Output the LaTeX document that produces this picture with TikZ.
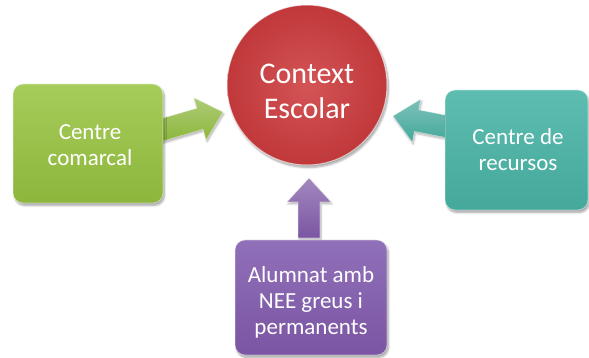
\documentclass[tikz,border=0pt]{standalone}
\usepackage{fontspec}
\setmainfont{Carlito}
\usetikzlibrary{calc,shadows.blur}
\definecolor{grn}{HTML}{8CB63C}
\definecolor{grnl}{HTML}{A6CC5A}
\definecolor{redc}{HTML}{C0383A}
\definecolor{redl}{HTML}{D45456}
\definecolor{tea}{HTML}{44A89B}
\definecolor{teal2}{HTML}{5DBDB0}
\definecolor{pur}{HTML}{7B55A3}
\definecolor{purl}{HTML}{9070B8}
\tikzset{
  boxstyle/.style={rounded corners=10pt, draw=white, draw opacity=0.5, line width=0.8pt,
    blur shadow={shadow xshift=1.5pt, shadow yshift=-2.5pt, shadow blur steps=6, shadow opacity=35}},
  boxtext/.style={text=white, font=\fontsize{23}{26}\selectfont, align=center},
  arrowstyle/.style={draw=white, draw opacity=0.5, line width=0.6pt,
    blur shadow={shadow xshift=1pt, shadow yshift=-2pt, shadow blur steps=5, shadow opacity=30}},
}
\newcommand\blockarr[3]{%
  \coordinate (#1h) at ($(#2)!24pt!(#1)$);
  \path[arrowstyle, top color=#3!70!white, bottom color=#3]
    ($(#1)!11pt!90:(#2)$) -- ($(#1h)!11pt!90:(#2)$) -- ($(#1h)!22pt!90:(#2)$) -- (#2)
    -- ($(#1h)!22pt!-90:(#2)$) -- ($(#1h)!11pt!-90:(#2)$) -- ($(#1)!11pt!-90:(#2)$) -- cycle;
}
\begin{document}
\begin{tikzpicture}[x=1pt,y=1pt]
\useasboundingbox (0,0) rectangle (589,358);
% arrows (behind)
\coordinate (gbase) at (158,227);
\coordinate (gtip) at (223,246);
\coordinate (tbase) at (449,231);
\coordinate (ttip) at (393,242);
\coordinate (pbase) at (309,120);
\coordinate (ptip) at (309,180);
\blockarr{gbase}{gtip}{grn}
\blockarr{tbase}{ttip}{tea}
\blockarr{pbase}{ptip}{pur}
% circle
\node[circle, minimum size=160pt, inner sep=0pt, draw=white, draw opacity=0.6, line width=1pt,
  inner color=redl, outer color=redc,
  blur shadow={shadow xshift=1.5pt, shadow yshift=-2.5pt, shadow blur steps=6, shadow opacity=35}]
  (ctx) at (307,273) {};
\node[text=white, font=\fontsize{30}{35}\selectfont, align=center] (ctxt) at (307,267) {Context\\Escolar};
% boxes
\path[boxstyle, top color=grnl, bottom color=grn] (13,155) rectangle (163,274);
\node[boxtext] (gtext) at (90,213) {Centre\\comarcal};
\path[boxstyle, top color=teal2, bottom color=tea] (445,148) rectangle (588,268);
\node[boxtext] (ttext) at (518,208) {Centre de\\recursos};
\path[boxstyle, top color=purl, bottom color=pur] (235,3) rectangle (387,118);
\node[boxtext] (ptext) at (311,56) {Alumnat amb\\NEE greus i\\permanents};
\end{tikzpicture}
\end{document}
